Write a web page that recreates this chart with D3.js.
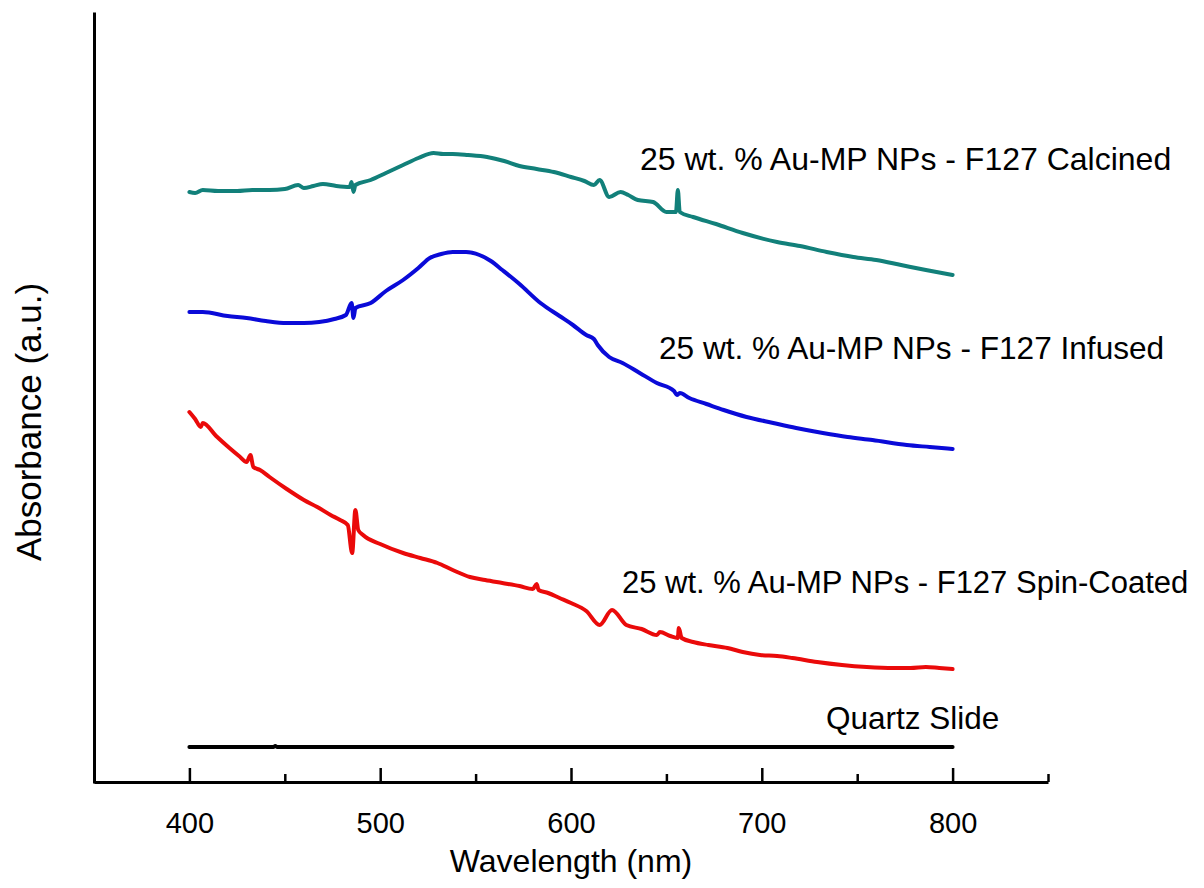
<!DOCTYPE html>
<html>
<head>
<meta charset="utf-8">
<script src="https://cdn.jsdelivr.net/npm/d3@7"></script>
<style>
  html, body { margin: 0; padding: 0; background: #fff; }
  svg { display: block; }
  text { font-family: "Liberation Sans", Arial, sans-serif; fill: #000; }
</style>
</head>
<body>
<svg id="chart" width="1204" height="888"></svg>
<script>
// ---- data (wavelength in nm, absorbance in arbitrary units) ----
const calcinedWl = [400,403,407,415,425,433,442,450,457,460,465,470,477,484,485,486,487,495,503,512,520,528,533,538,546,556,565,573,582,591,600,607,612,615,620,626,630,635,643,650,655,656,657,664,676,690,708,720,734,748,760,773,786,800];
const calcinedAbs = [5.91,5.90,5.93,5.92,5.92,5.93,5.93,5.94,5.98,5.95,5.97,5.99,5.97,5.96,6.01,5.91,5.98,6.03,6.10,6.18,6.25,6.30,6.29,6.29,6.28,6.26,6.22,6.17,6.14,6.11,6.06,6.02,5.98,6.03,5.86,5.91,5.88,5.83,5.81,5.71,5.71,5.93,5.71,5.66,5.59,5.50,5.41,5.37,5.31,5.26,5.23,5.18,5.13,5.08];

const infusedWl = [400,407,420,430,440,451,460,468,476,482,485,486,487,495,503,512,520,526,532,538,545,552,558,564,573,584,594,601,608,612,614,620,627,636,645,654,655.5,657,662,671,680,692,706,718,732,745,758,776,788,800];
const infusedAbs = [4.71,4.71,4.67,4.65,4.62,4.60,4.60,4.61,4.64,4.68,4.80,4.65,4.75,4.80,4.92,5.03,5.15,5.25,5.29,5.31,5.31,5.28,5.22,5.13,4.99,4.80,4.67,4.58,4.48,4.44,4.38,4.26,4.20,4.10,4.00,3.92,3.88,3.90,3.85,3.79,3.73,3.66,3.60,3.55,3.50,3.46,3.43,3.38,3.36,3.34];

const spinWl = [400,403,406,407,414,421,426,430,432,433.5,437,442,451,460,467,474,479,483,485.3,487,488.5,491,500,512,521,530,538,547,555,564,573,580,582,583,588,594,600,608,615,621.5,629,637,645,646.6,652,656,656.5,658,664,672,682,690,699,708,716,729,742,755,769,778,786,793,800];
const spinAbs = [3.71,3.64,3.56,3.60,3.47,3.35,3.27,3.21,3.28,3.16,3.13,3.06,2.94,2.83,2.76,2.68,2.63,2.58,2.30,2.73,2.53,2.48,2.39,2.30,2.25,2.20,2.13,2.06,2.03,2.00,1.97,1.94,1.99,1.93,1.90,1.85,1.80,1.72,1.58,1.73,1.58,1.54,1.48,1.51,1.47,1.45,1.55,1.45,1.41,1.38,1.35,1.31,1.28,1.27,1.25,1.21,1.18,1.16,1.15,1.15,1.16,1.15,1.14];

const quartzWl = [400,444,445,446,800];
const quartzAbs = [0.36,0.36,0.37,0.36,0.36];

const majorTicks = [400,500,600,700,800];
const minorTicks = [450,550,650,750,850];

const seriesLabels = [
  "25 wt. % Au-MP NPs - F127 Calcined",
  "25 wt. % Au-MP NPs - F127 Infused",
  "25 wt. % Au-MP NPs - F127 Spin-Coated",
  "Quartz Slide"
];
const xTitle = "Wavelength (nm)";
const yTitle = "Absorbance (a.u.)";

// ---- drawing ----
const svg = d3.select("#chart");
svg.append("rect").attr("width",1204).attr("height",888).attr("fill","#fff");

const x = d3.scaleLinear().domain([350, 850]).range([94, 1048]);
const y = d3.scaleLinear().domain([0, 7.71]).range([783, 12]);

const series = [
  {wl: calcinedWl, abs: calcinedAbs, color: "#12807a", label: seriesLabels[0], lx: 640, ly: 170, fs: 32},
  {wl: infusedWl, abs: infusedAbs, color: "#0a0ad8", label: seriesLabels[1], lx: 659, ly: 359, fs: 31.6},
  {wl: spinWl, abs: spinAbs, color: "#ea0a0a", label: seriesLabels[2], lx: 622, ly: 593, fs: 31},
  {wl: quartzWl, abs: quartzAbs, color: "#000000", label: seriesLabels[3], lx: 826, ly: 729, fs: 31.5}
];

const line = d3.line().curve(d3.curveMonotoneX).x(d => x(d[0])).y(d => y(d[1]));

series.forEach(s => {
  const pts = s.wl.map((w, i) => [w, s.abs[i]]);
  svg.append("path")
    .datum(pts)
    .attr("d", line)
    .attr("fill", "none")
    .attr("stroke", s.color)
    .attr("stroke-width", 4)
    .attr("stroke-linejoin", "round")
    .attr("stroke-linecap", "round");
  svg.append("text")
    .attr("x", s.lx).attr("y", s.ly)
    .attr("font-size", s.fs + "px")
    .text(s.label);
});

// x axis: major ticks (inward, long) and minor ticks (inward, short)
const gx = svg.append("g").attr("transform", "translate(0,782)");
gx.call(d3.axisBottom(x).tickValues(majorTicks).tickSizeInner(-14).tickSizeOuter(0).tickPadding(30).tickFormat(d3.format("d")));
gx.select(".domain").attr("stroke", "#000").attr("stroke-width", 3);
gx.selectAll(".tick line").attr("stroke", "#000").attr("stroke-width", 2.5);
gx.selectAll(".tick text").attr("font-size", "29px").attr("font-family", "Liberation Sans, Arial, sans-serif").attr("fill", "#000");

const gxm = svg.append("g").attr("transform", "translate(0,782)");
gxm.call(d3.axisBottom(x).tickValues(minorTicks).tickSizeInner(-8).tickSizeOuter(0).tickFormat(""));
gxm.select(".domain").remove();
gxm.selectAll(".tick line").attr("stroke", "#000").attr("stroke-width", 2.5);

// y axis: plain line without ticks
const gy = svg.append("g").attr("transform", "translate(94,0)");
gy.call(d3.axisLeft(y).tickValues([]).tickSizeOuter(0));
gy.select(".domain").attr("stroke", "#000").attr("stroke-width", 3);

// titles
svg.append("text")
  .attr("x", 571).attr("y", 872)
  .attr("text-anchor", "middle")
  .attr("font-size", "32px")
  .text(xTitle);

svg.append("text")
  .attr("transform", "translate(41,422) rotate(-90)")
  .attr("text-anchor", "middle")
  .attr("font-size", "35px")
  .text(yTitle);
</script>
</body>
</html>
